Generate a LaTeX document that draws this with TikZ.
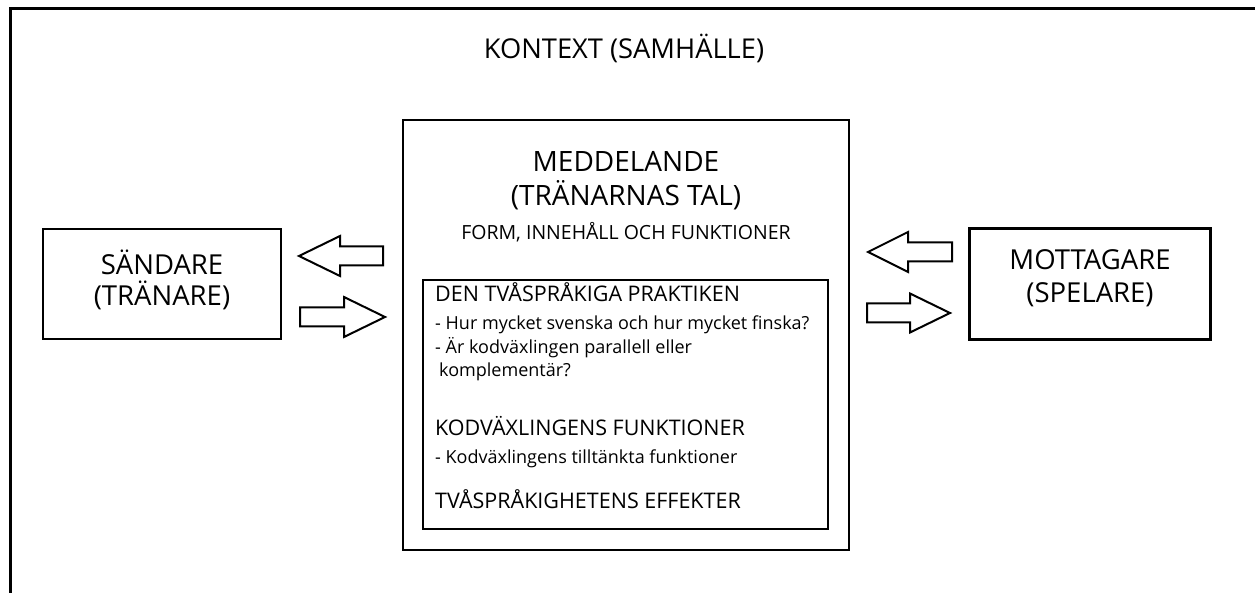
\documentclass[tikz,border=0pt]{standalone}
\usepackage{fontspec}
\setmainfont{Open Sans}
\usetikzlibrary{calc}

\tikzset{
  box/.style={draw, line width=2.5pt, inner sep=0pt},
  fatarrow/.style={draw, line width=2pt, line join=miter},
  bigtext/.style={anchor=base, inner sep=0pt, font=\fontsize{27.5}{32}\selectfont},
  midtext/.style={anchor=base, inner sep=0pt, font=\fontsize{19.5}{23}\selectfont},
  headtext/.style={anchor=base west, inner sep=0pt, font=\fontsize{21.5}{26}\selectfont},
  smalltext/.style={anchor=base west, inner sep=0pt, font=\fontsize{18}{22}\selectfont}
}

\begin{document}
\begin{tikzpicture}[x=1pt, y=-1pt]
\useasboundingbox (0,0) rectangle (1255,593);
% Ram (kontext)
\draw[line width=3pt] (10,593) -- (10,9) -- (1255,9);
\node[bigtext, font=\fontsize{27.3}{32}\selectfont] (kontext) at (624,59) {KONTEXT (SAMHÄLLE)};

% Sändare
\node[box, minimum width=238pt, minimum height=110pt] (sandare) at (162,284) {};
\node[bigtext] (sandare1) at (162,275) {SÄNDARE};
\node[bigtext] (sandare2) at (162,306) {(TRÄNARE)};

% Mottagare
\node[box, minimum width=241pt, minimum height=111pt] (mottagare) at (1090,284) {};
\node[bigtext] (mottagare1) at (1090,270) {MOTTAGARE};
\node[bigtext] (mottagare2) at (1090,303) {(SPELARE)};

% Meddelande
\node[box, minimum width=446pt, minimum height=430pt] (meddelande) at (626,335) {};
\node[bigtext, font=\fontsize{28}{33}\selectfont] (medd1) at (626,172) {MEDDELANDE};
\node[bigtext, font=\fontsize{28}{33}\selectfont] (medd2) at (626,206) {(TRÄNARNAS TAL)};
\node[midtext] (medd3) at (626,240) {FORM, INNEHÅLL OCH FUNKTIONER};

% Den tvåspråkiga praktiken
\node[box, minimum width=405pt, minimum height=249pt] (praktik) at (625.5,404.5) {};
\node[headtext] (rubrik1) at (435,302) {DEN TVÅSPRÅKIGA PRAKTIKEN};
\node[smalltext] (punkt1) at (435,330) {- Hur mycket svenska och hur mycket finska?};
\node[smalltext] (punkt2) at (435,354) {- Är kodväxlingen parallell eller};
\node[smalltext] (punkt3) at (439,377) {komplementär?};
\node[headtext] (rubrik2) at (435,435) {KODVÄXLINGENS FUNKTIONER};
\node[smalltext] (punkt4) at (435,463) {- Kodväxlingens tilltänkta funktioner};
\node[headtext] (rubrik3) at (435,508) {TVÅSPRÅKIGHETENS EFFEKTER};

% Pilar
\draw[fatarrow] (299,256) -- (340,236) -- (340,246.5) -- (383,246.5) -- (383,265.5)
  -- (340,265.5) -- (340,276) -- cycle;
\draw[fatarrow] (385,317) -- (344,297) -- (344,307.5) -- (300,307.5) -- (300,326.5)
  -- (344,326.5) -- (344,337) -- cycle;
\draw[fatarrow] (868,252) -- (908,232) -- (908,242.5) -- (952,242.5) -- (952,261.5)
  -- (908,261.5) -- (908,272) -- cycle;
\draw[fatarrow] (950,313) -- (910,293.5) -- (910,303.5) -- (867,303.5) -- (867,322.5)
  -- (910,322.5) -- (910,332.5) -- cycle;
\end{tikzpicture}
\end{document}
